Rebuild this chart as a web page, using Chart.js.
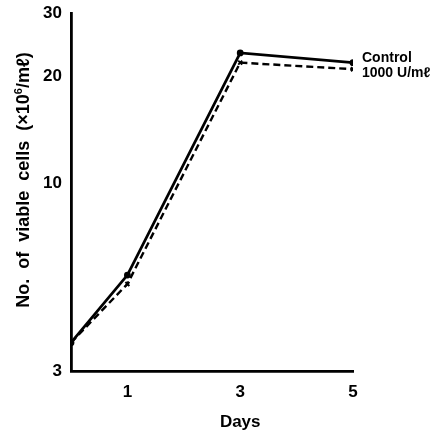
<!DOCTYPE html>
<html>
<head>
<meta charset="utf-8">
<script src="https://cdn.jsdelivr.net/npm/chart.js@4"></script>
<style>
html,body{margin:0;padding:0;background:#fff;}
#wrap{width:435px;height:434px;}
</style>
</head>
<body>
<div id="wrap"><canvas id="c" width="435" height="434"></canvas></div>
<script>
const days = [0, 1, 3, 5];
const controlValues = [3.6, 5.56, 23.2, 21.8];
const treatedValues = [3.6, 5.25, 21.8, 20.9];
const xTickValues = [1, 3, 5];
const yTickValues = [3, 10, 20, 30];
const seriesLabels = ['Control', '1000 U/m\u2113'];
const xTitle = 'Days';
const yTitleParts = ['No.  of  viable  cells  (\u00D710', '6', '/m\u2113)'];

const FONT = '"Liberation Sans", Arial, sans-serif';

const labelPlugin = {
  id: 'labels',
  afterDraw(chart) {
    const ctx = chart.ctx;
    const xs = chart.scales.x, ys = chart.scales.y;
    ctx.save();
    ctx.fillStyle = '#000';
    // series end labels
    ctx.font = 'bold 14px ' + FONT;
    ctx.textAlign = 'left';
    ctx.textBaseline = 'middle';
    const last = days.length - 1;
    ctx.fillText(seriesLabels[0], xs.getPixelForValue(days[last]) + 9, ys.getPixelForValue(controlValues[last]) - 5);
    ctx.fillText(seriesLabels[1], xs.getPixelForValue(days[last]) + 9, ys.getPixelForValue(treatedValues[last]) + 4);
    // x title
    ctx.font = 'bold 17px ' + FONT;
    ctx.textAlign = 'center';
    ctx.textBaseline = 'alphabetic';
    ctx.fillText(xTitle, xs.getPixelForValue(3), 427);
    // y title (rotated, with superscript)
    const mainFont = 'bold 18px ' + FONT;
    const supFont = 'bold 11px ' + FONT;
    ctx.font = mainFont;
    const w0 = ctx.measureText(yTitleParts[0]).width;
    const w2 = ctx.measureText(yTitleParts[2]).width;
    ctx.font = supFont;
    const w1 = ctx.measureText(yTitleParts[1]).width;
    const total = w0 + w1 + w2;
    ctx.translate(29, 180);
    ctx.rotate(-Math.PI / 2);
    ctx.textAlign = 'left';
    ctx.textBaseline = 'alphabetic';
    let x = -total / 2;
    ctx.font = mainFont;
    ctx.fillText(yTitleParts[0], x, 0);
    x += w0;
    ctx.font = supFont;
    ctx.fillText(yTitleParts[1], x, -7);
    x += w1;
    ctx.font = mainFont;
    ctx.fillText(yTitleParts[2], x, 0);
    ctx.restore();
  }
};

new Chart(document.getElementById('c'), {
  type: 'line',
  data: {
    datasets: [
      {
        label: seriesLabels[0],
        data: days.map((d, i) => ({x: d, y: controlValues[i]})),
        borderColor: '#000',
        backgroundColor: '#000',
        borderWidth: 2.8,
        pointStyle: 'circle',
        pointRadius: 3.4,
        pointBorderWidth: 0,
        tension: 0
      },
      {
        label: seriesLabels[1],
        data: days.map((d, i) => ({x: d, y: treatedValues[i]})),
        borderColor: '#000',
        backgroundColor: '#000',
        borderWidth: 2.4,
        borderDash: [7, 4],
        pointStyle: 'crossRot',
        pointRadius: 2.8,
        pointBorderWidth: 2,
        tension: 0
      }
    ]
  },
  options: {
    responsive: false,
    animation: false,
    layout: {padding: {left: 0, right: 82, top: 13, bottom: 0}},
    plugins: {legend: {display: false}, tooltip: {enabled: false}},
    scales: {
      x: {
        type: 'linear',
        min: 0,
        max: 5,
        afterBuildTicks: s => { s.ticks = xTickValues.map(v => ({value: v})); },
        afterFit: s => { s.height = 63; },
        grid: {display: false},
        border: {display: true, color: '#000', width: 2.8},
        ticks: {color: '#000', font: {family: FONT, size: 17, weight: 'bold'}, padding: 3, maxRotation: 0}
      },
      y: {
        type: 'logarithmic',
        min: 3,
        max: 30,
        afterBuildTicks: s => { s.ticks = yTickValues.map(v => ({value: v})); },
        afterFit: s => { s.width = 71; },
        grid: {display: false},
        border: {display: true, color: '#000', width: 2.8},
        ticks: {color: '#000', font: {family: FONT, size: 17, weight: 'bold'}, padding: 1, callback: v => String(v)}
      }
    }
  },
  plugins: [labelPlugin]
});
</script>
</body>
</html>
